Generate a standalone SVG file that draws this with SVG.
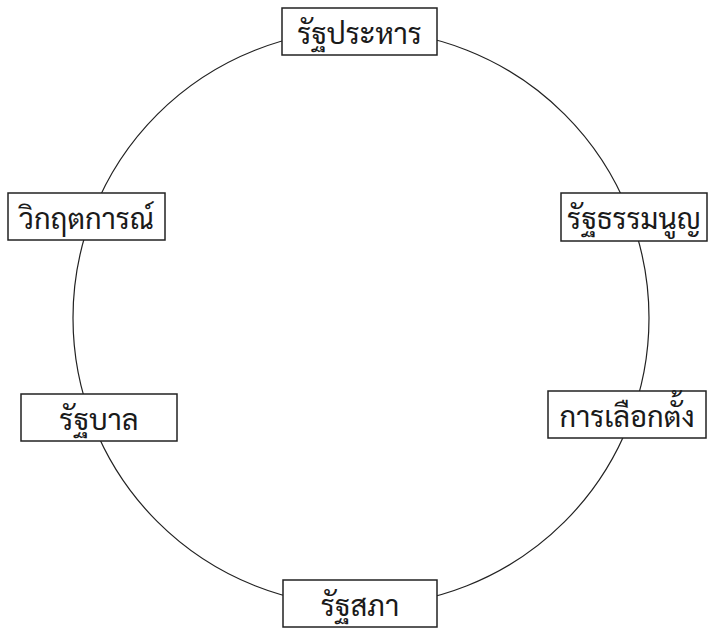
<svg xmlns="http://www.w3.org/2000/svg" width="710" height="629" viewBox="0 0 710 629">
<style>
.box{fill:#fff;stroke:#222;stroke-width:1.5}
.lbl{font-family:"Laksaman","TH Sarabun New","Sarabun","Noto Sans Thai Looped","Loma","Garuda","Noto Sans Thai","Noto Sans",sans-serif;font-size:29px;fill:#1a1a1a;text-anchor:middle;dominant-baseline:central}
.edge{fill:none;stroke:#222;stroke-width:1.2}
</style>
<rect width="710" height="629" fill="#fff"/>
<g id="connectors">
<circle class="edge" cx="361" cy="318" r="288"/>
</g>
<g id="n-rathaprahan"><rect class="box" x="282" y="8" width="155" height="47"/><text class="lbl" x="359.5" y="31.5">รัฐประหาร</text></g>
<g id="n-ratthathammanun"><rect class="box" x="561" y="193" width="146" height="48"/><text class="lbl" x="634" y="217">รัฐธรรมนูญ</text></g>
<g id="n-kanlueaktang"><rect class="box" x="548" y="391" width="158" height="47"/><text class="lbl" x="627" y="414.5">การเลือกตั้ง</text></g>
<g id="n-ratthasapha"><rect class="box" x="283" y="580" width="154" height="47"/><text class="lbl" x="360" y="603.5">รัฐสภา</text></g>
<g id="n-ratthaban"><rect class="box" x="21" y="394" width="156" height="47"/><text class="lbl" x="99" y="417.5">รัฐบาล</text></g>
<g id="n-wikrittakan"><rect class="box" x="8" y="193" width="157" height="47"/><text class="lbl" x="86.5" y="216.5">วิกฤตการณ์</text></g>
</svg>
